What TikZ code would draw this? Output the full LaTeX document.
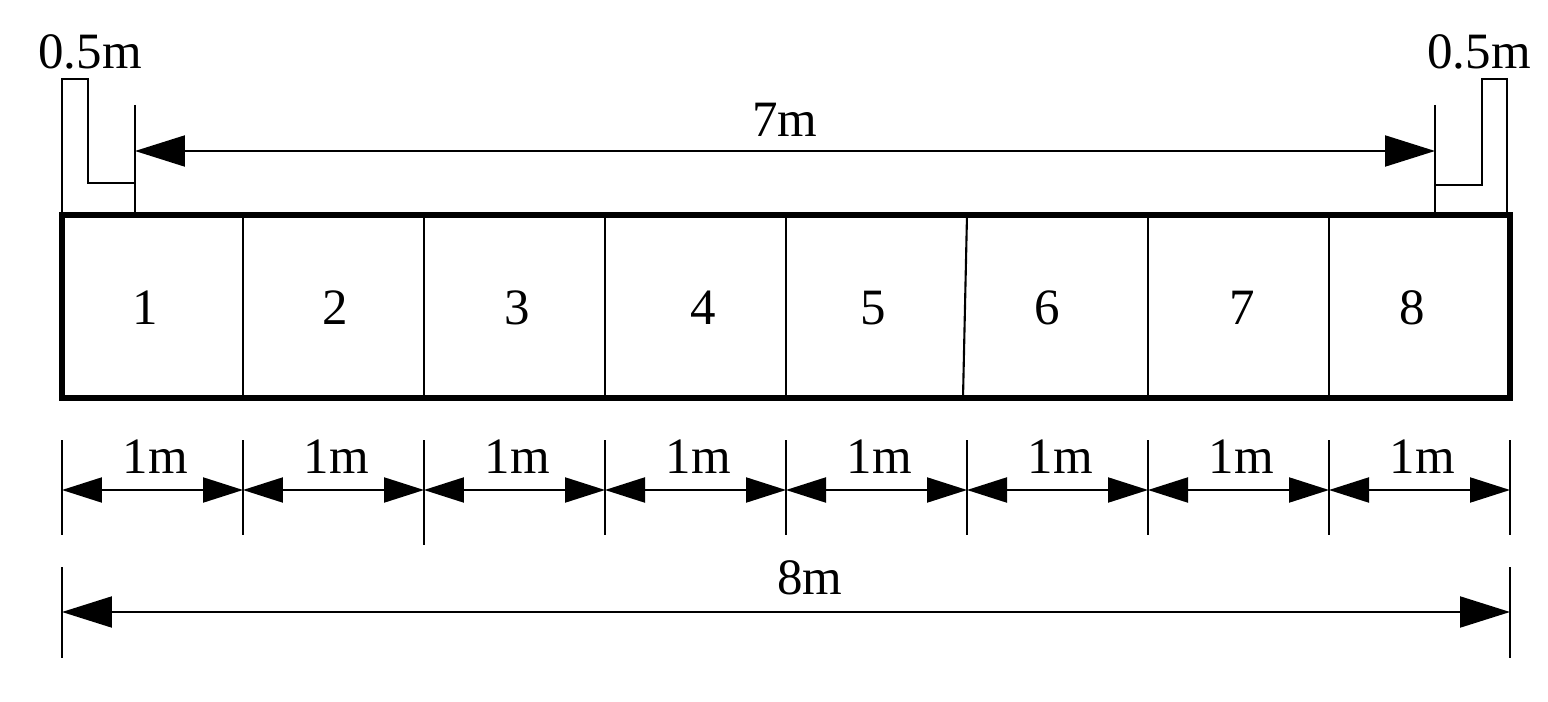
\documentclass[tikz,border=0pt]{standalone}
\usepackage{fontspec}
\setmainfont{Liberation Serif}
\usetikzlibrary{arrows.meta}
\begin{document}
\begin{tikzpicture}[x=0.02cm,y=-0.02cm,
  ln/.style={line width=1.2pt},
  dimbig/.style={ln,{Triangle[length=1cm,width=0.62cm]}-{Triangle[length=1cm,width=0.62cm]}},
  dimsm/.style={ln,{Triangle[length=0.8cm,width=0.5cm]}-{Triangle[length=0.8cm,width=0.5cm]}},
  lbl/.style={font=\fontsize{29}{32}\selectfont,inner sep=0pt}]
\useasboundingbox (0,0) rectangle (1548,702);
% box
\draw[line width=3pt] (62,215) rectangle (1510,398);
\foreach \a/\b in {243/243,424/424,605/605,786/786,967/963,1148/1148,1329/1329}
  \draw[ln] (\a,215) -- (\b,398);
\foreach \x/\n in {145/1,335/2,517/3,703/4,873/5,1047/6,1242/7,1412/8}
  \node[lbl] (n\n) at (\x,308) {\n};
% top L shapes
\draw[ln] (62,215) -- (62,79) -- (88,79) -- (88,183) -- (135,183);
\draw[ln] (135,105) -- (135,215);
\draw[ln] (1507,215) -- (1507,79) -- (1482,79) -- (1482,185) -- (1435,185);
\draw[ln] (1435,105) -- (1435,215);
\node[lbl] (ha) at (90,52) {0.5m};
\node[lbl] (hb) at (1479,52) {0.5m};
\coordinate (s1) at (135,151); \coordinate (s2) at (1435,151);
\draw[dimbig] (s1) -- (s2);
\node[lbl] (seven) at (785,120) {7m};
% bottom dims
\foreach \x/\h in {62/535,243/535,424/545,605/535,786/535,967/535,1148/535,1329/535,1510/535}
  \draw[ln] (\x,440) -- (\x,\h);
\foreach \a/\b in {62/243,243/424,424/605,605/786,786/967,967/1148,1148/1329,1329/1510}{
  \coordinate (p\a) at (\a,490); \coordinate (q\a) at (\b,490);
  \draw[dimsm] (p\a) -- (q\a);
  \node[lbl] (m\a) at ({(\a+\b)/2+3},457) {1m};}
\draw[ln] (62,567) -- (62,658); \draw[ln] (1510,567) -- (1510,658);
\coordinate (e1) at (62,612); \coordinate (e2) at (1510,612);
\draw[dimbig] (e1) -- (e2);
\node[lbl] (eight) at (810,578) {8m};
\end{tikzpicture}
\end{document}
